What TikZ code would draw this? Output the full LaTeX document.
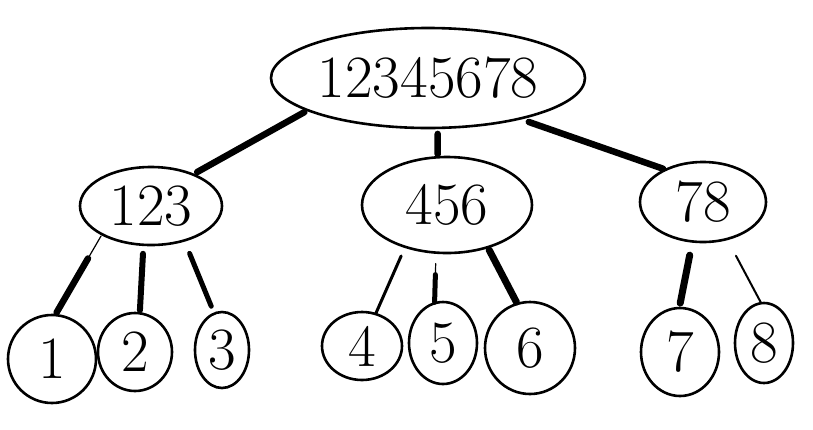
\documentclass[tikz,border=0pt]{standalone}
\usetikzlibrary{shapes.geometric}
\begin{document}
\begin{tikzpicture}[x=1pt,y=-1pt,
  bub/.style={ellipse, draw, line width=2.6pt, inner sep=0pt, outer sep=0pt,
    font=\fontsize{60}{60}\selectfont},
  link/.style={line width=#1, line cap=round},
]
\useasboundingbox (0,0) rectangle (813,429);
% nodes
\node[bub, minimum width=314pt, minimum height=100pt] (root) at (428,78) {12345678};
\node[bub, minimum width=142pt, minimum height=78pt] (n123) at (151,206) {123};
\node[bub, minimum width=170pt, minimum height=96pt] (n456) at (447,205) {456};
\node[bub, minimum width=126pt, minimum height=80pt] (n78) at (703,202) {78};
\node[bub, minimum width=88pt, minimum height=88pt] (l1) at (52,359) {1};
\node[bub, minimum width=74pt, minimum height=78pt] (l2) at (135,352) {2};
\node[bub, minimum width=54pt, minimum height=76pt] (l3) at (222,350) {3};
\node[bub, minimum width=80pt, minimum height=68pt] (l4) at (362,346) {4};
\node[bub, minimum width=68pt, minimum height=82pt] (l5) at (443,343) {5};
\node[bub, minimum width=90pt, minimum height=92pt] (l6) at (530,348) {6};
\node[bub, minimum width=78pt, minimum height=88pt] (l7) at (680,352) {7};
\node[bub, minimum width=58pt, minimum height=80pt] (l8) at (764,343) {8};
% root edges
\draw[link=6.5pt, shorten <=4pt, shorten >=5pt] (root.195) -- (n123.37);
\draw[link=6.5pt, shorten <=6pt, shorten >=3pt] (root.281) -- (n456.101);
\draw[link=6.5pt, shorten <=10pt, shorten >=3pt] (root.336) -- (n78.139);
% 123 edges
\draw[link=1.2pt, shorten <=2pt, shorten >=3pt] (n123.210) -- (l1.86);
\draw[link=6.5pt, shorten <=28pt, shorten >=3pt] (n123.210) -- (l1.86);
\draw[link=6pt, shorten <=9pt, shorten >=3pt] (n123.259) -- (l2.83);
\draw[link=5pt, shorten <=14pt, shorten >=8pt] (n123.314) -- (l3.102);
% 456 edges
\draw[link=3pt, shorten <=10pt, shorten >=1pt] (n456.225) -- (l4.67);
\draw[link=1.2pt, shorten <=11pt, shorten >=1pt] (n456.257) -- (l5.102);
\draw[link=5pt, shorten <=22pt, shorten >=1pt] (n456.257) -- (l5.102);
\draw[link=7pt, shorten <=3pt, shorten >=2pt] (n456.314) -- (l6.106);
% 78 edges
\draw[link=7pt, shorten <=14pt, shorten >=5pt] (n78.255) -- (l7.91);
\draw[link=2pt, shorten <=19pt, shorten >=1pt] (n78.303) -- (l8.94);
\end{tikzpicture}
\end{document}
